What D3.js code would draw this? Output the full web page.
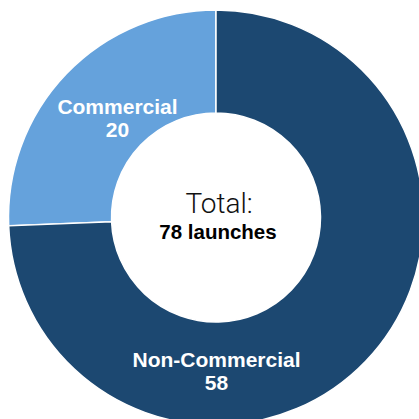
<!DOCTYPE html>
<html>
<head>
<meta charset="utf-8">
<script src="https://cdn.jsdelivr.net/npm/d3@7"></script>
<style>
  html, body { margin: 0; padding: 0; background: #fff; overflow: hidden; }
  svg { display: block; }
</style>
</head>
<body>
<svg id="chart" width="419" height="419"></svg>
<script>
// data
var categories = ['Commercial', 'Non-Commercial'];
var launches = [20, 58];
var colors = ['#65a2dc', '#1c4871'];
var totalTitle = 'Total:';
var totalUnit = 'launches';

var width = 419, height = 419;
var cx = 216, cy = 217.5;
var outerR = 207.5, innerR = 104.5;

var svg = d3.select('#chart');
var g = svg.append('g').attr('transform', 'translate(' + cx + ',' + cy + ')');

var rows = categories.map(function (c, i) {
  return { name: c, value: launches[i], color: colors[i] };
});

// commercial runs counter-clockwise from 12 o'clock
var share = launches[0] / d3.sum(launches);
var pie = d3.pie()
  .sort(null)
  .value(function (d) { return d.value; })
  .startAngle(-2 * Math.PI * share)
  .endAngle(2 * Math.PI - 2 * Math.PI * share);

var arc = d3.arc().innerRadius(innerR).outerRadius(outerR);
var arcs = pie(rows);

g.selectAll('path.slice')
  .data(arcs)
  .enter().append('path')
  .attr('class', 'slice')
  .attr('d', arc)
  .attr('fill', function (d) { return d.data.color; })
  .attr('stroke', '#fff')
  .attr('stroke-width', 1.5);

// label anchors: commercial near its slice centroid, non-commercial at the bottom
var labelPos = function (d, i) {
  if (i === 0) {
    var a = (d.startAngle + d.endAngle) / 2 + 0.025, r = 140;
    return [Math.sin(a) * r, -Math.cos(a) * r];
  }
  return [0.5, 153];
};

var labels = g.selectAll('g.label')
  .data(arcs)
  .enter().append('g')
  .attr('class', 'label')
  .attr('transform', function (d, i) {
    var p = labelPos(d, i);
    return 'translate(' + p[0] + ',' + p[1] + ')';
  });

labels.append('text')
  .attr('text-anchor', 'middle')
  .attr('y', -4)
  .attr('font-family', '"Liberation Sans", Arial, Helvetica, sans-serif')
  .attr('font-size', '21px')
  .attr('font-weight', 'bold')
  .attr('fill', '#fff')
  .text(function (d) { return d.data.name; });

labels.append('text')
  .attr('text-anchor', 'middle')
  .attr('y', 19)
  .attr('font-family', '"Liberation Sans", Arial, Helvetica, sans-serif')
  .attr('font-size', '21px')
  .attr('font-weight', 'bold')
  .attr('fill', '#fff')
  .text(function (d) { return d.data.value; });

// centre text
g.append('text')
  .attr('text-anchor', 'middle')
  .attr('x', 3)
  .attr('y', -5)
  .attr('font-family', 'Roboto, "Helvetica Neue", sans-serif')
  .attr('font-weight', 300)
  .attr('font-size', '28px')
  .attr('fill', '#111')
  .text(totalTitle);

g.append('text')
  .attr('text-anchor', 'middle')
  .attr('x', 2)
  .attr('y', 21)
  .attr('font-family', '"Liberation Sans", Arial, Helvetica, sans-serif')
  .attr('font-size', '20.5px')
  .attr('font-weight', 'bold')
  .attr('fill', '#000')
  .text(d3.sum(launches) + ' ' + totalUnit);
</script>
</body>
</html>
